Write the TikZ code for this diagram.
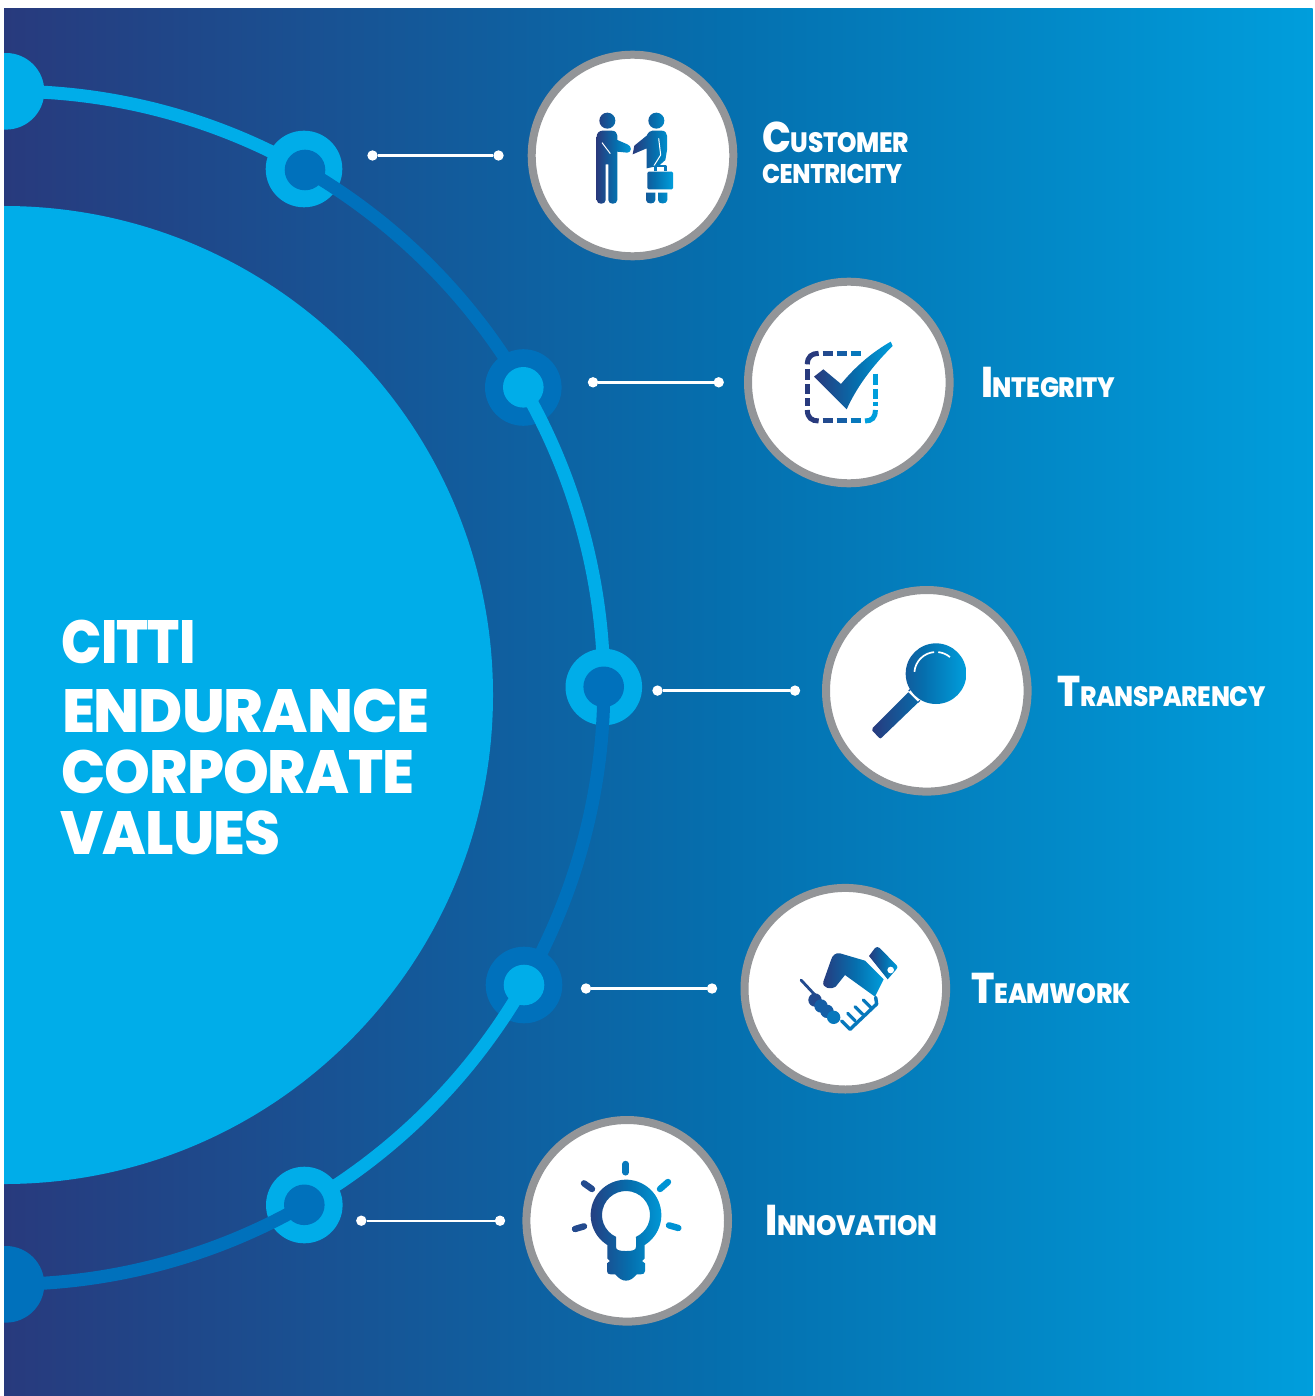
\documentclass[tikz,border=0pt]{standalone}
\usepackage{fontspec}
\usepackage{graphicx}
\setmainfont{Poppins}
\newfontfamily\capsfont[FakeStretch=0.92,LetterSpace=-1.5]{Poppins ExtraBold}
\definecolor{bgdk}{HTML}{283A7D}
\definecolor{bgmid}{HTML}{056FAE}
\definecolor{bglt}{HTML}{009EDC}
\definecolor{ringlt}{HTML}{00ADE9}
\definecolor{ringdk}{HTML}{0071BC}
\definecolor{greyrim}{HTML}{939598}
\definecolor{icA}{HTML}{234A8E}
\definecolor{icB}{HTML}{155FA6}
\definecolor{icC}{HTML}{0778BC}
\definecolor{icD}{HTML}{0093D4}
\pgfdeclarehorizontalshading{grad}{100bp}{color(0bp)=(bgdk); color(25bp)=(bgdk); color(52.5bp)=(bgmid); color(75bp)=(bglt); color(100bp)=(bglt)}
\tikzset{
  icon/.style={shading=grad,shading angle=0},
  ring/.style={circle,inner sep=0,outer sep=0,minimum size=76.6pt},
  hub/.style={circle,inner sep=0,outer sep=0,minimum size=40.6pt},
  seg/.style={line width=13pt,bend left=15,looseness=0.866},
  dot/.style={circle,fill=white,inner sep=0,outer sep=0,minimum size=10.4pt},
  conn/.style={draw=white,line width=2.4pt},
  badge/.style={circle,draw=greyrim,fill=white,line width=8pt,inner sep=0,outer sep=0,minimum size=201.6pt},
  lab/.style={anchor=base west,inner sep=0,outer sep=0,text=white},
  ttl/.style={anchor=base west,inner sep=0,outer sep=0,text=white,font=\capsfont\fontsize{61}{61}\selectfont},
  ray/.style={line width=6.4pt,line cap=round},
  dashseg/.style={line width=5pt},
}
\newcommand{\bigsmall}[2]{{\capsfont\fontsize{43}{43}\selectfont #1}{\capsfont\fontsize{28}{28}\selectfont #2}}
\begin{document}
\begin{tikzpicture}[x=1pt,y=-1pt]
\useasboundingbox (0,0) rectangle (1314,1396);
\fill[white] (0,0) rectangle (1314,1396);
\begin{scope}
\clip (4,8.4) rectangle (1312.5,1396);
\shade[shading=grad,shading angle=0] (4,8.4) rectangle (1312.5,1396);
\node[circle,fill=ringlt,inner sep=0,outer sep=0,minimum size=978pt] (core) at (4,695) {};
\node[ring,fill=ringlt] (e0) at (6,91.3) {};
\node[ring,fill=ringdk] (e6) at (6,1284.3) {};
\node[ring,fill=ringlt] (n1) at (304,169) {};
\node[ring,fill=ringdk] (n2) at (523.3,387.5) {};
\node[ring,fill=ringlt] (n3) at (603.8,687) {};
\node[ring,fill=ringdk] (n4) at (524,985) {};
\node[ring,fill=ringlt] (n5) at (304.3,1205) {};
\draw[seg,ringlt] (e0.center) to (n1.center);
\draw[seg,ringdk] (n1.center) to (n2.center);
\draw[seg,ringlt] (n2.center) to (n3.center);
\draw[seg,ringdk] (n3.center) to (n4.center);
\draw[seg,ringlt] (n4.center) to (n5.center);
\draw[seg,ringdk] (n5.center) to (e6.center);
\node[hub,fill=ringdk] (h1) at (305,170) {};
\node[hub,fill=ringlt] (h2) at (523.3,387.3) {};
\node[hub,fill=ringdk] (h3) at (603.7,686.8) {};
\node[hub,fill=ringlt] (h4) at (524,985) {};
\node[hub,fill=ringdk] (h5) at (304.3,1204.8) {};
\end{scope}
% title
\node[ttl] (t1) at (61.5,663.8) {\scalebox{0.95}[1]{CITTI}};
\node[ttl] (t2) at (62,732.2) {\scalebox{1.071}[1]{ENDURANCE}};
\node[ttl] (t3) at (61.5,793.2) {\scalebox{1.037}[1]{CORPORATE}};
\node[ttl] (t4) at (60.5,854.8) {\scalebox{1.033}[1]{VALUES}};
% connectors
\node[dot] (d1a) at (372.5,155.5) {};
\node[dot] (d1b) at (498.5,155.5) {};
\node[dot] (d2a) at (593,382.3) {};
\node[dot] (d2b) at (718.7,382.3) {};
\node[dot] (d3a) at (657.5,690.6) {};
\node[dot] (d3b) at (795,690.6) {};
\node[dot] (d4a) at (586,988.5) {};
\node[dot] (d4b) at (712,988.5) {};
\node[dot] (d5a) at (361.3,1220.7) {};
\node[dot] (d5b) at (500,1220.7) {};
\draw[conn] (d1a) -- (d1b);
\draw[conn] (d2a) -- (d2b);
\draw[conn] (d3a) -- (d3b);
\draw[conn] (d4a) -- (d4b);
\draw[conn] (d5a) -- (d5b);
% badges
\node[badge] (c1) at (632.5,155.5) {};
\node[badge] (c2) at (848.8,382.5) {};
\node[badge] (c3) at (926.8,690.8) {};
\node[badge] (c4) at (845.3,988.7) {};
\node[badge] (c5) at (627.2,1220.8) {};
% labels
\node[lab] (l1a) at (762,152.5) {\scalebox{0.963}[1]{\bigsmall{C}{USTOMER}}};
\node[lab] (l1b) at (762,184) {\scalebox{0.96}[1]{\capsfont\fontsize{27}{27}\selectfont CENTRICITY}};
\node[lab] (l2) at (981,397.5) {\scalebox{0.98}[1]{\bigsmall{I}{NTEGRITY}}};
\node[lab] (l3) at (1057,706.5) {\scalebox{0.965}[1]{\bigsmall{T}{RANSPARENCY}}};
\node[lab] (l4) at (971.5,1003.5) {\scalebox{0.977}[1]{\bigsmall{T}{EAMWORK}}};
\node[lab] (l5) at (765,1235) {\scalebox{1.008}[1]{\bigsmall{I}{NNOVATION}}};
% icon 1: people
\begin{scope}[shift={(590,105)},scale=1/3]
\shade[icon] (52,47) circle[radius=24]
  (20,95) .. controls (20,84) and (28,77) .. (38,77) -- (65,77) .. controls (76,77) and (82,84) .. (82,92) -- (82,105) -- (112,118) .. controls (126,122) and (126,143) .. (112,143) -- (82,140) -- (82,285) .. controls (82,300) and (55,300) .. (55,285) -- (55,178) -- (47,178) -- (47,285) .. controls (47,300) and (20,300) .. (20,285) -- cycle;
\draw[white,line width=1pt] (36,113) -- (61,146);
\shade[icon] (199,47) circle[radius=24]
  (133,122) -- (170,92) .. controls (175,82) and (180,77) .. (187,77) -- (215,77) .. controls (225,77) and (231,84) .. (231,92) -- (231,135) -- (226,165) -- (207,182) -- (170,190) -- (170,130) -- (128,148) -- cycle
  (176,200) -- (245,200) .. controls (247,200) and (249,202) .. (249,204) -- (249,249) .. controls (249,251) and (247,253) .. (245,253) -- (176,253) .. controls (174,253) and (172,251) .. (172,249) -- (172,204) .. controls (172,202) and (174,200) .. (176,200) -- cycle
  (168,263) -- (196,263) -- (196,285) .. controls (196,299) and (168,299) .. (168,285) -- cycle
  (204,263) -- (232,263) -- (232,285) .. controls (232,299) and (204,299) .. (204,285) -- cycle;
\draw[white,line width=1pt] (206,100) -- (212,150) -- (192,182);
\draw[icC,line width=2.6pt,line join=round] (196,199) -- (196,183) -- (226,183) -- (226,199);
\end{scope}
% icon 2: check box
\begin{scope}[shift={(740,275)},scale=1/3]
\draw[dashseg,bgdk] (202,268) .. controls (202,245) and (215,235) .. (236,235);
\draw[dashseg,icA] (248,235) -- (280,235);
\draw[dashseg,icB] (290,235) -- (320,235);
\draw[dashseg,icC] (332,235) -- (362,235);
\draw[dashseg,bgdk] (202,282) -- (202,316) (202,328) -- (202,358) (202,370) -- (202,394);
\draw[dashseg,bgdk] (202,405) .. controls (202,428) and (215,438) .. (236,438);
\draw[dashseg,icA] (248,438) -- (280,438);
\draw[dashseg,icB] (290,438) -- (320,438);
\draw[dashseg,icC] (332,438) -- (362,438);
\draw[dashseg,bglt] (375,438) .. controls (396,438) and (406,428) .. (406,405);
\draw[dashseg,bglt] (406,296) -- (406,330) (406,342) -- (406,372) (406,382) -- (406,394);
\draw[white,line width=3pt] (222,305) -- (250,283) -- (303,327) .. controls (350,270) and (400,230) .. (452,200) -- (458,213) .. controls (410,260) and (355,325) .. (320,403) -- cycle;
\shade[icon] (222,305) -- (250,283) -- (303,327) .. controls (350,270) and (400,230) .. (452,200) -- (458,213) .. controls (410,260) and (355,325) .. (320,403) -- cycle;
\end{scope}
% icon 3: magnifier
\begin{scope}[shift={(820,585)},scale=1/3]
\shade[icon] (348,266) circle[radius=91]
  (158,429) -- (265,322) -- (295,352) -- (186,457) .. controls (182,461) and (180,461) .. (177,458) -- (157,437) .. controls (155,434) and (155,432) .. (158,429) -- cycle;
\draw[icB,line width=1.2pt] (266,318) -- (272,312) (300,346) -- (294,352);
\draw[white,line width=1.7pt] (348,266) ++(185:65) arc[start angle=185,end angle=265,radius=65];
\draw[white,line width=1.7pt] (348,266) ++(276:65) arc[start angle=276,end angle=310,radius=65];
\end{scope}
% icon 4: handshake
\begin{scope}[shift={(795,940)},scale=1/3]
\draw[icA,line width=2.8pt,line cap=round] (18,120) -- (60,165);
\shade[icon] (85,125) -- (108,60) .. controls (112,45) and (122,38) .. (135,40) -- (210,62) -- (266,118) -- (240,170) -- (150,105) -- (122,140) .. controls (110,150) and (80,145) .. (85,125) -- cycle;
\shade[icon] (222,48) -- (240,24) .. controls (244,20) and (250,20) .. (254,24) -- (305,76) .. controls (308,80) and (308,84) .. (304,88) -- (278,118) -- cycle;
\fill[white] (287,90) circle[radius=10];
\fill[icA] (60,180) circle[radius=20];
\fill[icB] (78,198) circle[radius=20];
\fill[icB] (96,214) circle[radius=20];
\fill[icC] (116,232) circle[radius=20];
\draw[icC,line width=3.4pt,line join=round,line cap=round] (242,172) -- (245,192) -- (165,268) -- (140,243);
\draw[icC,line width=3.2pt,line cap=round] (205,180) -- (228,203) (180,200) -- (203,223) (158,220) -- (181,243);
\end{scope}
% icon 5: bulb
\begin{scope}[shift={(520,1115)},scale=1/3]
\draw[ray,icC] (317,147) -- (317,172);
\draw[ray,icA] (192,205) -- (216,222);
\draw[ray,icD] (444,201) -- (420,222);
\draw[ray,icA] (165,342) -- (192,334);
\draw[ray,icD] (447,331) -- (475,339);
\shade[icon,even odd rule] (318,300) ++(122:106) arc[start angle=122,end angle=418,radius=106]
  -- (374,430) -- (366,438) -- (375,445) -- (375,468) .. controls (375,475) and (370,478) .. (362,478) -- (350,478) .. controls (340,490) and (330,497) .. (318,497) .. controls (306,497) and (296,490) .. (286,478) -- (272,478) .. controls (265,478) and (261,475) .. (261,468) -- (261,445) -- (270,438) -- (262,430) -- cycle
  (318,300) ++(114.6:72) arc[start angle=114.6,end angle=425.4,radius=72]
  -- (348,395) .. controls (348,405) and (340,408) .. (318,408) .. controls (296,408) and (288,405) .. (288,395) -- cycle;
\end{scope}
\end{tikzpicture}
\end{document}
